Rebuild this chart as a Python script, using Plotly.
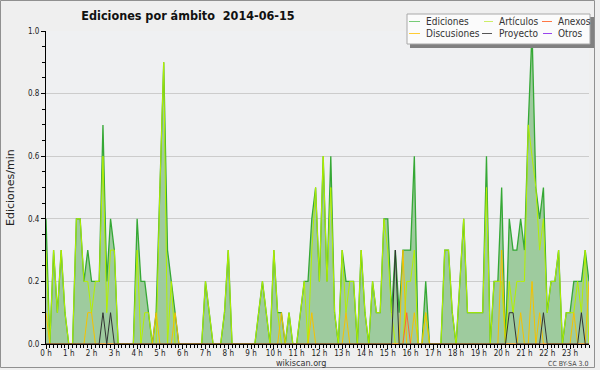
import plotly.graph_objects as go

# ---- data: edits per minute, 10-minute buckets, 2014-06-15 (12 values = 2 hours per row)
ediciones = [
    0.4, 0, 0.3, 0.1, 0.3, 0.1, 0, 0, 0.4, 0.4, 0.2, 0.3,
    0.2, 0.2, 0.2, 0.7, 0.2, 0.4, 0.3, 0, 0, 0, 0, 0,
    0.4, 0.2, 0.2, 0.1, 0, 0.1, 0.5, 0.9, 0.3, 0.2, 0.1, 0,
    0, 0, 0, 0, 0, 0, 0.2, 0.1, 0, 0, 0, 0.1,
    0.3, 0, 0, 0, 0, 0, 0, 0, 0.1, 0.2, 0.1, 0,
    0.3, 0.1, 0.1, 0, 0.1, 0, 0, 0.1, 0.2, 0.2, 0.4, 0.5,
    0.2, 0.6, 0.2, 0.6, 0.1, 0, 0.3, 0.2, 0.2, 0.2, 0, 0.3,
    0.1, 0, 0.2, 0.1, 0.1, 0.4, 0.4, 0.1, 0.3, 0.1, 0.3, 0.3,
    0.3, 0.6, 0, 0, 0.2, 0, 0, 0, 0, 0.3, 0.3, 0.1,
    0, 0.2, 0.4, 0.1, 0.1, 0.1, 0.1, 0.1, 0.6, 0, 0.2, 0.2,
    0.5, 0, 0.4, 0.3, 0.3, 0.4, 0.3, 0.7, 1.0, 0.5, 0.4, 0.5,
    0.1, 0.2, 0.2, 0.3, 0, 0.1, 0.1, 0.2, 0.2, 0.2, 0.3, 0.2,
]
articulos = [
    0.3, 0, 0.3, 0.1, 0.3, 0.1, 0, 0, 0.4, 0.4, 0.2, 0.2,
    0.1, 0.2, 0.2, 0.6, 0.1, 0.3, 0.3, 0, 0, 0, 0, 0,
    0.3, 0, 0.1, 0.1, 0, 0, 0.5, 0.9, 0, 0.2, 0, 0,
    0, 0, 0, 0, 0, 0, 0.2, 0.1, 0, 0, 0, 0.1,
    0.3, 0, 0, 0, 0, 0, 0, 0, 0.1, 0.2, 0.1, 0,
    0.3, 0.1, 0, 0, 0.1, 0, 0, 0.1, 0.2, 0, 0.3, 0.5,
    0.2, 0.6, 0.2, 0.5, 0.1, 0, 0.3, 0.1, 0.2, 0.2, 0, 0.3,
    0.1, 0, 0.2, 0.1, 0.1, 0.4, 0.3, 0.1, 0, 0, 0, 0.2,
    0.2, 0.3, 0, 0, 0.1, 0, 0, 0, 0, 0.3, 0.3, 0.1,
    0, 0.2, 0.4, 0.1, 0.1, 0.1, 0.1, 0.1, 0.5, 0, 0.2, 0.2,
    0.2, 0, 0.2, 0.1, 0.2, 0.2, 0.2, 0.7, 0.6, 0.5, 0.3, 0.4,
    0.1, 0.2, 0.2, 0.3, 0, 0.1, 0.1, 0.1, 0.2, 0.1, 0.3, 0,
]
discusiones = [
    0.1, 0, 0, 0, 0, 0, 0, 0, 0, 0, 0, 0.1,
    0.1, 0, 0, 0, 0, 0, 0, 0, 0, 0, 0, 0,
    0, 0, 0, 0, 0, 0.1, 0, 0, 0, 0, 0.1, 0,
    0, 0, 0, 0, 0, 0, 0, 0, 0, 0, 0, 0,
    0, 0, 0, 0, 0, 0, 0, 0, 0, 0, 0, 0,
    0, 0, 0.1, 0, 0, 0, 0, 0, 0, 0, 0.1, 0,
    0, 0, 0, 0, 0, 0, 0, 0.1, 0, 0, 0, 0,
    0, 0, 0, 0, 0, 0, 0, 0, 0, 0, 0.3, 0,
    0, 0.1, 0, 0, 0.1, 0, 0, 0, 0, 0, 0, 0,
    0, 0, 0, 0, 0, 0, 0, 0, 0, 0, 0, 0,
    0.3, 0, 0, 0, 0, 0.1, 0, 0, 0.2, 0, 0.1, 0,
    0, 0, 0, 0, 0, 0, 0, 0.1, 0, 0, 0, 0.2,
]
proyecto = [
    0, 0, 0, 0, 0, 0, 0, 0, 0, 0, 0, 0,
    0, 0, 0, 0.1, 0, 0.1, 0, 0, 0, 0, 0, 0,
    0, 0, 0, 0, 0, 0, 0, 0, 0, 0, 0, 0,
    0, 0, 0, 0, 0, 0, 0, 0, 0, 0, 0, 0,
    0, 0, 0, 0, 0, 0, 0, 0, 0, 0, 0, 0,
    0, 0, 0, 0, 0, 0, 0, 0, 0, 0, 0, 0,
    0, 0, 0, 0, 0, 0, 0, 0, 0, 0, 0, 0,
    0, 0, 0, 0, 0, 0, 0, 0, 0.3, 0, 0, 0,
    0, 0, 0, 0, 0, 0, 0, 0, 0, 0, 0, 0,
    0, 0, 0, 0, 0, 0, 0, 0, 0, 0, 0, 0,
    0, 0, 0.1, 0.1, 0, 0, 0, 0, 0, 0, 0, 0.1,
    0, 0, 0, 0, 0, 0, 0, 0, 0, 0.1, 0, 0,
]
anexos = [
    0, 0, 0, 0, 0, 0, 0, 0, 0, 0, 0, 0,
    0, 0, 0, 0, 0, 0, 0, 0, 0, 0, 0, 0,
    0, 0, 0, 0, 0, 0, 0, 0, 0, 0, 0, 0,
    0, 0, 0, 0, 0, 0, 0, 0, 0, 0, 0, 0,
    0, 0, 0, 0, 0, 0, 0, 0, 0, 0, 0, 0,
    0, 0, 0, 0, 0, 0, 0, 0, 0, 0, 0, 0,
    0, 0, 0, 0, 0, 0, 0, 0, 0, 0, 0, 0,
    0, 0, 0, 0, 0, 0, 0, 0, 0, 0, 0, 0.1,
    0, 0, 0, 0, 0, 0, 0, 0, 0, 0, 0, 0,
    0, 0, 0, 0, 0, 0, 0, 0, 0, 0, 0, 0,
    0, 0, 0, 0, 0, 0, 0, 0, 0, 0, 0, 0,
    0, 0, 0, 0, 0, 0, 0, 0, 0, 0, 0, 0,
]
otros = [0] * 144  # no edits in "Otros" all day

hour_labels = [f"{h} h" for h in range(24)]
times = [i / 6 for i in range(144)]  # hours since midnight, 10-minute steps

colors = {
    "Ediciones": "#35a835",
    "Artículos": "#b4f000",
    "Anexos": "#ff6633",
    "Discusiones": "#f5c200",
    "Proyecto": "#333333",
    "Otros": "#9933ff",
}
legend_colors = {
    "Ediciones": "#77cc77",
    "Artículos": "#ccee66",
    "Anexos": "#ff7744",
    "Discusiones": "#ffcc33",
    "Proyecto": "#555555",
    "Otros": "#9944ee",
}

COND = "DejaVu Sans Condensed, DejaVu Sans, sans-serif"

fig = go.Figure()
fig.add_trace(go.Scatter(x=times, y=otros, mode="lines", name="Otros",
                         line=dict(color=colors["Otros"], width=1), showlegend=False))
fig.add_trace(go.Scatter(x=times, y=ediciones, mode="lines", name="Ediciones", fill="tozeroy",
                         fillcolor="#9ecb9e", line=dict(color=colors["Ediciones"], width=1.3),
                         showlegend=False))
fig.add_trace(go.Scatter(x=times, y=articulos, mode="lines", name="Artículos",
                         line=dict(color=colors["Artículos"], width=1), showlegend=False))
fig.add_trace(go.Scatter(x=times, y=discusiones, mode="lines", name="Discusiones",
                         line=dict(color=colors["Discusiones"], width=1), showlegend=False))
fig.add_trace(go.Scatter(x=times, y=anexos, mode="lines", name="Anexos",
                         line=dict(color=colors["Anexos"], width=1), showlegend=False))
fig.add_trace(go.Scatter(x=times, y=proyecto, mode="lines", name="Proyecto",
                         line=dict(color=colors["Proyecto"], width=1), showlegend=False))

# pixel -> paper helpers for the plot frame (plot area: x 46..589, y 31..344)
L, W, T, H = 46, 543, 31, 313


def px(x):
    return (x - L) / W


def py(y):
    return (T + H - y) / H


shapes = []
annotations = []

# outer frame
shapes.append(dict(type="rect", xref="paper", yref="paper", x0=px(0.5), x1=px(594.5),
                   y0=py(0.5), y1=py(367.5), line=dict(color="#909090", width=1),
                   fillcolor="rgba(0,0,0,0)", layer="below"))

# legend box with shadow
shapes.append(dict(type="rect", xref="paper", yref="paper", x0=px(410), x1=px(594),
                   y0=py(17), y1=py(48), line=dict(width=0), fillcolor="#808080"))
shapes.append(dict(type="rect", xref="paper", yref="paper", x0=px(407), x1=px(590),
                   y0=py(14), y1=py(44), line=dict(color="#a8a8a8", width=1),
                   fillcolor="#fbfbfb"))

legend_layout = [
    ("Ediciones", 409, 420, 424, 21.5),
    ("Artículos", 484, 493, 497, 21.5),
    ("Anexos", 542, 552, 556, 21.5),
    ("Discusiones", 409, 420, 424, 33.5),
    ("Proyecto", 482, 492, 497, 33.5),
    ("Otros", 543, 552, 556, 33.5),
]
for name, lx0, lx1, tx, yy in legend_layout:
    shapes.append(dict(type="line", xref="paper", yref="paper", x0=px(lx0), x1=px(lx1),
                       y0=py(yy), y1=py(yy), line=dict(color=legend_colors[name], width=1)))
    annotations.append(dict(text=name, xref="paper", yref="paper", x=px(tx), y=py(yy),
                            xanchor="left", yanchor="middle", showarrow=False,
                            font=dict(family=COND, size=10, color="#333333")))

# y-axis title
annotations.append(dict(text="Ediciones/min", xref="paper", yref="paper", x=px(10), y=py(188),
                        xanchor="center", yanchor="middle", textangle=-90, showarrow=False,
                        font=dict(family="DejaVu Sans, sans-serif", size=11, color="#222222")))
# footer texts
annotations.append(dict(text="wikiscan.org", xref="paper", yref="paper", x=px(301), y=py(363),
                        xanchor="center", yanchor="middle", showarrow=False,
                        font=dict(family=COND, size=9, color="#333333")))
annotations.append(dict(text="CC BY-SA 3.0", xref="paper", yref="paper", x=px(590), y=py(364),
                        xanchor="right", yanchor="middle", showarrow=False,
                        font=dict(family=COND, size=7, color="#444444")))

fig.update_layout(
    width=600, height=370,
    margin=dict(l=L, r=600 - L - W, t=T, b=370 - T - H),
    paper_bgcolor="#efefef",
    plot_bgcolor="#eff0f2",
    title=dict(text="Ediciones por ámbito  2014-06-15", x=188 / 600, xanchor="center",
               y=1 - 16 / 370, yanchor="middle",
               font=dict(family=COND, size=12.5, color="#111111", weight="bold")),
    shapes=shapes,
    annotations=annotations,
    showlegend=False,
    hovermode=False,
)
fig.update_xaxes(
    range=[0, 143 / 6], tickvals=list(range(24)), ticktext=hour_labels,
    ticks="outside", ticklen=4, tickcolor="#000000", tickwidth=1,
    showline=True, linecolor="#000000", linewidth=1,
    showgrid=False, zeroline=False, ticklabelstandoff=-3,
    tickfont=dict(family=COND, size=8, color="#222222"),
    minor=dict(dtick=1 / 6, tick0=0, ticks="outside", ticklen=3, tickcolor="#000000", showgrid=False),
)
fig.update_yaxes(
    range=[0, 1], dtick=0.2, tick0=0, tickformat=".1f",
    ticks="outside", ticklen=4, tickcolor="#000000", tickwidth=1,
    showline=True, linecolor="#000000", linewidth=1,
    showgrid=True, gridcolor="#cccccc", gridwidth=1, zeroline=False,
    tickfont=dict(family=COND, size=8, color="#222222"),
    minor=dict(dtick=0.05, ticks="outside", ticklen=3, tickcolor="#000000", showgrid=False),
)

fig.write_html(
    "out.html",
    config={"displayModeBar": False},
    post_script="document.body.style.margin='0px';document.body.style.padding='0px';",
)
